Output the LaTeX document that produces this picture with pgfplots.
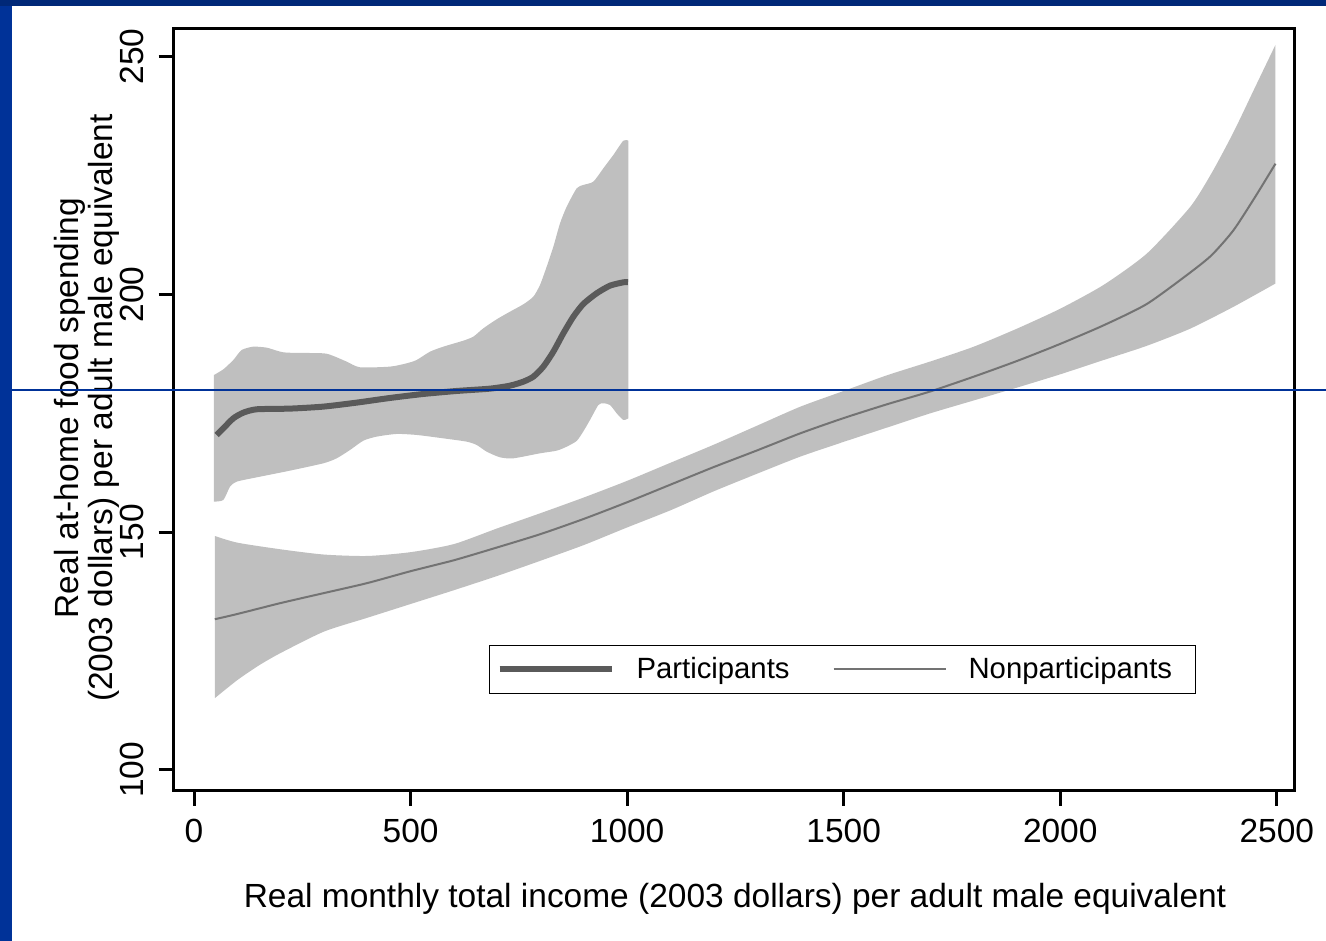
\documentclass[border=0pt]{standalone}
\usepackage{fontspec}
\setmainfont{Liberation Sans}
\usepackage{pgfplots}
\pgfplotsset{compat=1.18}
\usepgfplotslibrary{fillbetween}

\definecolor{bandgray}{RGB}{191,191,191}
\definecolor{partline}{RGB}{90,90,90}
\definecolor{nonpline}{RGB}{115,115,115}
\definecolor{slideblue}{RGB}{0,50,152}
\definecolor{slidetop}{RGB}{0,40,120}
\pagecolor{white}

\begin{document}
\begin{tikzpicture}[x=1bp,y=1bp]
% slide frame
\fill[slideblue] (0,0) rectangle (6,470.5);
\fill[slidetop] (0,467.5) rectangle (663,470.5);

\begin{axis}[
  at={(86.85bp,75bp)}, anchor=south west,
  scale only axis, width=560.3bp, height=381.25bp,
  xmin=-46.9, xmax=2540.5, ymin=95.58, ymax=255.93,
  xtick={0,500,1000,1500,2000,2500},
  ytick={100,150,200,250},
  tick pos=left, tick align=outside,
  major tick length=7.5bp,
  every tick/.style={black, line width=1.5bp},
  axis line style={black, line width=1.5bp},
  /pgf/number format/assume math mode=true,
  /pgf/number format/1000 sep={},
  ticklabel style={font=\fontsize{16.8}{20}\selectfont, inner sep=0pt},
  xticklabel style={anchor=north},
  xticklabel shift=6.5bp,
  yticklabel style={rotate=90, anchor=south},
  yticklabel shift=7.1bp,
  xlabel={Real monthly total income (2003 dollars) per adult male equivalent},
  ylabel={Real at-home food spending\\(2003 dollars) per adult male equivalent},
  label style={font=\fontsize{16.8}{17}\selectfont},
  xlabel style={at={(axis description cs:0.5009,-0.1416)}, anchor=center},
  ylabel style={at={(axis description cs:-0.0773,0.5023)}, anchor=center, align=center},
  legend columns=2,
  legend style={
    at={(0.2814,0.1272)}, anchor=south west,
    draw=black, line width=0.5bp,
    font=\fontsize{14.7}{17}\selectfont,
    inner xsep=3.5bp, inner ysep=4bp,
    nodes={inner xsep=0pt, inner ysep=2bp},
    /tikz/every odd column/.append style={column sep=11bp},
    /tikz/every even column/.append style={column sep=21.5bp},
  },
  legend image code/.code={\draw[#1] (0bp,0bp) -- (56bp,0bp);},
]

% confidence band, participants
\addplot[name path=pup, draw=none, smooth, tension=0.4, forget plot] coordinates {
 (46,183.06) (67.7,184.25) (90.8,186.22) (110.1,188.32) (137,189.02)
 (167.8,188.81) (190.9,188.18) (214,187.76) (298.6,187.62) (321.7,187.06)
 (352.5,185.87) (383.3,184.68) (452.6,184.82) (491,185.52) (514.1,186.22)
 (545,187.97) (575.7,189.02) (621.9,190.28) (645,191.13) (668.1,192.88)
 (698.9,194.77) (729.6,196.38) (760.4,197.93) (783.5,199.54) (798.9,202.0)
 (814.3,205.85) (829.7,210.05) (845.1,214.96) (860.5,218.46) (883.6,222.32)
 (898.9,223.02) (922,223.72) (945.1,226.52) (968.2,229.33) (991.3,232.34)
 (1003,232.34)
};
\addplot[name path=plo, draw=none, smooth, tension=0.4, forget plot] coordinates {
 (46,156.43) (67.7,156.78) (83.1,159.58) (98.5,160.63) (144.7,161.54)
 (221.7,162.95) (298.6,164.49) (329.4,165.54) (360.2,167.29) (391,169.25)
 (421.8,170.1) (467.9,170.66) (514.1,170.45) (575.7,169.74) (629.6,169.04)
 (652.7,168.34) (675.7,166.94) (706.5,165.75) (737.3,165.54) (798.9,166.59)
 (837.4,167.15) (860.5,167.99) (883.6,169.2) (898.9,171.2) (914.3,173.6)
 (933.6,176.75) (945.1,177.11) (960.5,176.75) (975.9,175.0) (991.3,173.6)
 (1003,173.95)
};
\addplot[fill=bandgray, draw=none, forget plot] fill between[of=pup and plo];

% confidence band, nonparticipants
\addplot[name path=nup, draw=none, smooth, tension=0.4, forget plot] coordinates {
 (48,149.2) (100,147.8) (200,146.4) (300,145.3) (400,145.0) (500,145.8)
 (600,147.5) (700,150.8) (800,154.0) (900,157.3) (1000,160.8) (1100,164.6)
 (1200,168.4) (1300,172.4) (1400,176.4) (1500,179.7) (1600,183.0)
 (1700,185.9) (1800,189.0) (1900,192.8) (2000,197.0) (2100,202.0)
 (2200,208.6) (2300,218.4) (2350,225.6) (2400,234.1) (2450,243.6)
 (2497,252.5)
};
\addplot[name path=nlo, draw=none, smooth, tension=0.4, forget plot] coordinates {
 (48,115.1) (100,118.9) (150,122.0) (200,124.6) (300,129.1) (400,132.0)
 (500,134.9) (600,137.8) (700,140.8) (800,144.0) (900,147.3) (1000,151.0)
 (1100,154.6) (1200,158.6) (1300,162.3) (1400,165.9) (1500,169.0)
 (1600,172.0) (1700,175.0) (1800,177.7) (1900,180.4) (2000,183.2)
 (2100,186.2) (2200,189.2) (2300,192.8) (2400,197.4) (2497,202.3)
};
\addplot[fill=bandgray, draw=none, forget plot] fill between[of=nup and nlo];

% smoothed means
\addplot[partline, line width=3bp, smooth, tension=0.4] coordinates {
 (52.3,170.45) (67.7,171.85) (90.8,173.95) (113.9,175.14) (144.7,175.85)
 (221.7,175.99) (298.6,176.41) (375.6,177.25) (452.6,178.23) (529.5,179.07)
 (606.5,179.70) (683.4,180.19) (729.6,180.82) (760.4,181.66) (783.5,182.71)
 (806.6,184.82) (829.7,187.97) (852.8,191.83) (875.9,195.33) (898.9,198.0)
 (929.7,200.24) (960.5,201.85) (991.3,202.55) (1002,202.6)
};
\addlegendentry{Participants}

\addplot[nonpline, line width=1bp, smooth, tension=0.4] coordinates {
 (48,131.7) (100,132.8) (200,135.1) (300,137.2) (400,139.3) (500,141.8)
 (600,144.1) (700,146.8) (800,149.6) (900,152.8) (1000,156.3) (1100,160.0)
 (1200,163.7) (1300,167.2) (1400,170.8) (1500,174.0) (1600,176.9)
 (1700,179.6) (1800,182.7) (1900,186.0) (2000,189.6) (2100,193.5)
 (2200,198.0) (2300,204.6) (2350,208.3) (2400,213.5) (2450,220.5)
 (2497,227.5)
};
\addlegendentry{Nonparticipants\kern8bp}
\end{axis}

% thin rule across the slide
\fill[slideblue] (6,275.15) rectangle (663,275.85);
\end{tikzpicture}
\end{document}
